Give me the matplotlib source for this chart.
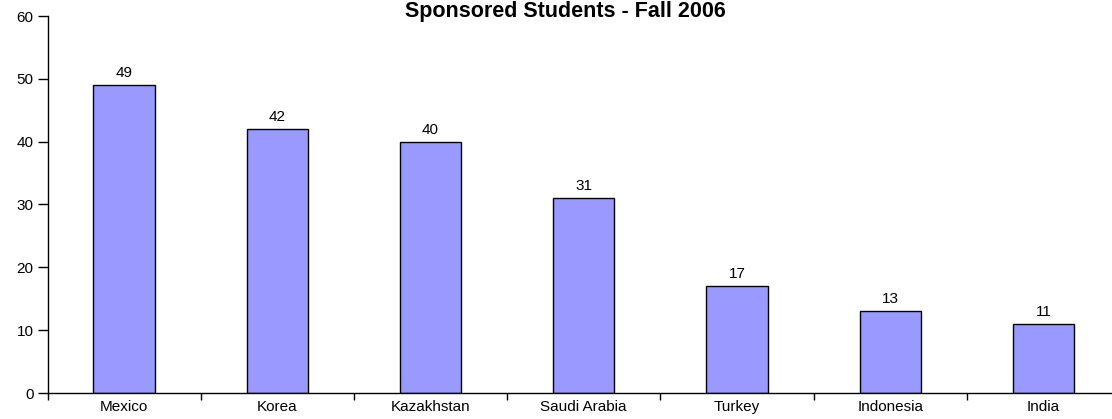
import numpy as np
import matplotlib
matplotlib.use('Agg')
import matplotlib.pyplot as plt

countries = ["Mexico", "Korea", "Kazakhstan", "Saudi Arabia", "Turkey", "Indonesia", "India"]
students = [49, 42, 40, 31, 17, 13, 11]

plt.rcParams['font.family'] = ['Liberation Sans', 'DejaVu Sans']

fig = plt.figure(figsize=(11.12, 4.19), dpi=100)
# right edge of the plot runs a little past the figure
ax = fig.add_axes([47.5 / 1112, 26 / 419, 1072.5 / 1112, 377 / 419])

x = np.arange(len(countries))
bars = ax.bar(x, students, width=0.4, color="#9999FF", edgecolor="black", linewidth=1)

for xi, v in zip(x, students):
    ax.annotate(str(v), (xi, v), xytext=(0, 3.5), textcoords="offset points",
                ha="center", va="bottom", fontsize=11)

ax.set_xlim(-0.5, len(countries) - 0.5)
ax.set_ylim(0, 60)
ax.set_yticks(range(0, 61, 10))

# category labels centred, tick marks between categories
ax.set_xticks(x)
ax.set_xticklabels(countries, fontsize=11)
ax.tick_params(axis="x", which="major", length=0, pad=5)
ax.set_xticks(np.arange(-0.5, len(countries)), minor=True)
ax.tick_params(axis="x", which="minor", length=5, width=1, direction="out")
ax.tick_params(axis="y", length=7, width=1, direction="out", labelsize=11, pad=3)

for s in ["top", "right"]:
    ax.spines[s].set_visible(False)
for s in ["left", "bottom"]:
    ax.spines[s].set_linewidth(1)

fig.text(565 / 1112, 1 - 12 / 419, "Sponsored Students - Fall 2006",
         ha="center", va="center", fontsize=15.5, fontweight="bold")

fig.savefig("out.png", dpi=100)
